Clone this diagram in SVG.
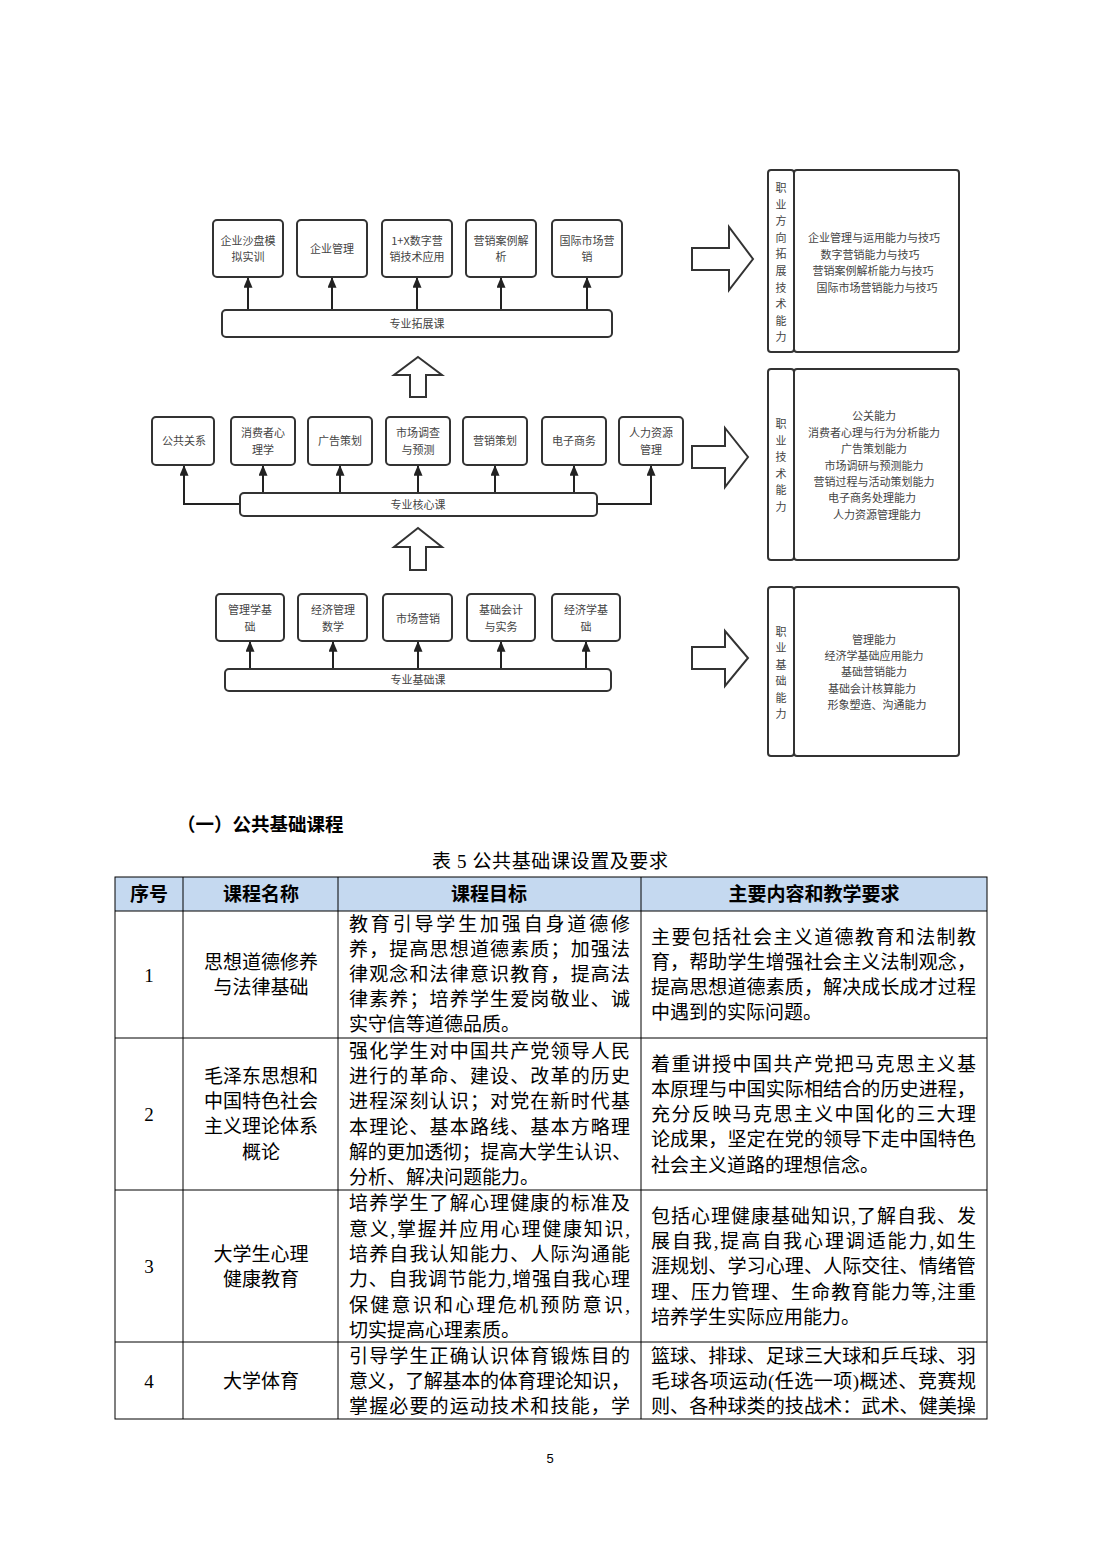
<svg xmlns="http://www.w3.org/2000/svg" width="1102" height="1559" viewBox="0 0 1102 1559">
<style>
.box{fill:#fff;stroke:#333;stroke-width:2}
.t{font-family:"Noto Sans CJK SC","Liberation Sans",sans-serif;font-size:11px;fill:#444;text-anchor:middle}
.conn{stroke:#222;stroke-width:2;fill:none;marker-end:url(#ah)}
.hol{fill:#fff;stroke:#333;stroke-width:2}
.grid{stroke:#000;stroke-width:1;fill:none}
.th{font-family:"Noto Sans CJK SC","Liberation Sans",sans-serif;font-size:19px;font-weight:bold;fill:#000;text-anchor:middle}
.td{font-family:"Liberation Serif","Noto Sans CJK SC",serif;font-size:19px;fill:#000}
.c{text-anchor:middle}
</style>
<defs>
<marker id="ah" viewBox="0 0 12 10" refX="12" refY="5" markerWidth="12" markerHeight="9" markerUnits="userSpaceOnUse" orient="auto">
<path d="M0,0 L12,5 L0,10 z" fill="#222"/>
</marker>
</defs>
<rect width="1102" height="1559" fill="#fff"/>

<!-- connectors -->
<g id="connectors">
<path class="conn" d="M248 310 V277"/>
<path class="conn" d="M332 310 V277"/>
<path class="conn" d="M417 310 V277"/>
<path class="conn" d="M501 310 V277"/>
<path class="conn" d="M587 310 V277"/>
<path class="conn" d="M240 504 H184 V465"/>
<path class="conn" d="M263 493 V465"/>
<path class="conn" d="M340 493 V465"/>
<path class="conn" d="M418 493 V465"/>
<path class="conn" d="M495 493 V465"/>
<path class="conn" d="M574 493 V465"/>
<path class="conn" d="M597 504 H651 V465"/>
<path class="conn" d="M250 669 V641"/>
<path class="conn" d="M333 669 V641"/>
<path class="conn" d="M418 669 V641"/>
<path class="conn" d="M501 669 V641"/>
<path class="conn" d="M586 669 V641"/>
<polygon class="hol" points="418,357 442,375 426,375 426,397 410,397 410,375 394,375"/>
<polygon class="hol" points="418,528 442,547 426,547 426,570 410,570 410,547 394,547"/>
<polygon class="hol" points="692,248 729,248 729,227 753,259 729,290 729,270 692,270"/>
<polygon class="hol" points="692,446 725,446 725,428 748,457 725,487 725,468 692,468"/>
<polygon class="hol" points="692,647 725,647 725,631 748,658 725,686 725,669 692,669"/>
</g>

<!-- top row -->
<g id="n-shapan"><rect class="box" x="213" y="220" width="70" height="57" rx="4"/><text class="t" x="248" y="245">企业沙盘模</text><text class="t" x="248" y="261">拟实训</text></g>
<g id="n-qygl"><rect class="box" x="297" y="220" width="70" height="57" rx="4"/><text class="t" x="332" y="253">企业管理</text></g>
<g id="n-1x"><rect class="box" x="382" y="220" width="70" height="57" rx="4"/><text class="t" x="417" y="245">1+X数字营</text><text class="t" x="417" y="261">销技术应用</text></g>
<g id="n-alfx"><rect class="box" x="466" y="220" width="70" height="57" rx="4"/><text class="t" x="501" y="245">营销案例解</text><text class="t" x="501" y="261">析</text></g>
<g id="n-gjsc"><rect class="box" x="552" y="220" width="70" height="57" rx="4"/><text class="t" x="587" y="245">国际市场营</text><text class="t" x="587" y="261">销</text></g>
<g id="n-tzk"><rect class="box" x="222" y="310" width="390" height="27" rx="4"/><text class="t" x="417" y="328">专业拓展课</text></g>

<!-- middle row -->
<g id="n-ggxg"><rect class="box" x="152" y="417" width="62" height="48" rx="4"/><text class="t" x="184" y="445">公共关系</text></g>
<g id="n-xfz"><rect class="box" x="231" y="417" width="64" height="48" rx="4"/><text class="t" x="263" y="437">消费者心</text><text class="t" x="263" y="454">理学</text></g>
<g id="n-ggch"><rect class="box" x="308" y="417" width="64" height="48" rx="4"/><text class="t" x="340" y="445">广告策划</text></g>
<g id="n-scdc"><rect class="box" x="386" y="417" width="64" height="48" rx="4"/><text class="t" x="418" y="437">市场调查</text><text class="t" x="418" y="454">与预测</text></g>
<g id="n-yxch"><rect class="box" x="463" y="417" width="64" height="48" rx="4"/><text class="t" x="495" y="445">营销策划</text></g>
<g id="n-dzsw"><rect class="box" x="542" y="417" width="64" height="48" rx="4"/><text class="t" x="574" y="445">电子商务</text></g>
<g id="n-rlzy"><rect class="box" x="619" y="417" width="64" height="48" rx="4"/><text class="t" x="651" y="437">人力资源</text><text class="t" x="651" y="454">管理</text></g>
<g id="n-hxk"><rect class="box" x="240" y="493" width="357" height="23" rx="4"/><text class="t" x="418" y="509">专业核心课</text></g>

<!-- bottom row -->
<g id="n-glxjc"><rect class="box" x="216" y="594" width="68" height="47" rx="4"/><text class="t" x="250" y="614">管理学基</text><text class="t" x="250" y="631">础</text></g>
<g id="n-jjglsx"><rect class="box" x="298" y="594" width="69" height="47" rx="4"/><text class="t" x="333" y="614">经济管理</text><text class="t" x="333" y="631">数学</text></g>
<g id="n-scyx"><rect class="box" x="383" y="594" width="69" height="47" rx="4"/><text class="t" x="418" y="623">市场营销</text></g>
<g id="n-jckj"><rect class="box" x="467" y="594" width="68" height="47" rx="4"/><text class="t" x="501" y="614">基础会计</text><text class="t" x="501" y="631">与实务</text></g>
<g id="n-jjxjc"><rect class="box" x="552" y="594" width="68" height="47" rx="4"/><text class="t" x="586" y="614">经济学基</text><text class="t" x="586" y="631">础</text></g>
<g id="n-jck"><rect class="box" x="225" y="669" width="386" height="22" rx="4"/><text class="t" x="418" y="684">专业基础课</text></g>

<!-- right boxes -->
<g id="r-tz">
<rect class="box" x="768" y="170" width="26" height="182" rx="3"/>
<rect class="box" x="794" y="170" width="165" height="182" rx="3"/>
<text class="t" x="781" y="192"><tspan x="781">职</tspan><tspan x="781" dy="16.6">业</tspan><tspan x="781" dy="16.6">方</tspan><tspan x="781" dy="16.6">向</tspan><tspan x="781" dy="16.6">拓</tspan><tspan x="781" dy="16.6">展</tspan><tspan x="781" dy="16.6">技</tspan><tspan x="781" dy="16.6">术</tspan><tspan x="781" dy="16.6">能</tspan><tspan x="781" dy="16.6">力</tspan></text>
<text class="t" x="874" y="242">企业管理与运用能力与技巧</text>
<text class="t" x="870" y="258.5">数字营销能力与技巧</text>
<text class="t" x="873" y="275">营销案例解析能力与技巧</text>
<text class="t" x="877" y="291.5">国际市场营销能力与技巧</text>
</g>
<g id="r-js">
<rect class="box" x="768" y="369" width="26" height="191" rx="3"/>
<rect class="box" x="794" y="369" width="165" height="191" rx="3"/>
<text class="t" x="781" y="428"><tspan x="781">职</tspan><tspan x="781" dy="16.6">业</tspan><tspan x="781" dy="16.6">技</tspan><tspan x="781" dy="16.6">术</tspan><tspan x="781" dy="16.6">能</tspan><tspan x="781" dy="16.6">力</tspan></text>
<text class="t" x="874" y="420">公关能力</text>
<text class="t" x="874" y="437">消费者心理与行为分析能力</text>
<text class="t" x="874" y="453">广告策划能力</text>
<text class="t" x="874" y="470">市场调研与预测能力</text>
<text class="t" x="874" y="486">营销过程与活动策划能力</text>
<text class="t" x="872" y="502">电子商务处理能力</text>
<text class="t" x="877" y="519">人力资源管理能力</text>
</g>
<g id="r-jc">
<rect class="box" x="768" y="587" width="26" height="169" rx="3"/>
<rect class="box" x="794" y="587" width="165" height="169" rx="3"/>
<text class="t" x="781" y="636"><tspan x="781">职</tspan><tspan x="781" dy="16.4">业</tspan><tspan x="781" dy="16.4">基</tspan><tspan x="781" dy="16.4">础</tspan><tspan x="781" dy="16.4">能</tspan><tspan x="781" dy="16.4">力</tspan></text>
<text class="t" x="874" y="644">管理能力</text>
<text class="t" x="874" y="660">经济学基础应用能力</text>
<text class="t" x="874" y="676">基础营销能力</text>
<text class="t" x="872" y="693">基础会计核算能力</text>
<text class="t" x="877" y="709">形象塑造、沟通能力</text>
</g>

<!-- heading and caption -->
<text x="177" y="831" style="font-family:'Noto Sans CJK SC','Liberation Sans',sans-serif;font-size:18.5px;font-weight:bold;fill:#000">（一）公共基础课程</text>
<text x="432" y="868" textLength="236" lengthAdjust="spacing" style="font-family:'Liberation Serif','Noto Sans CJK SC',serif;font-size:19px;fill:#000">表 5 公共基础课设置及要求</text>

<!-- table -->
<g id="table">
<rect x="115" y="877" width="872" height="34" fill="#c5d9f0"/>
<g class="grid">
<rect x="115" y="877" width="872" height="542"/>
<path d="M115 911 H987 M115 1038 H987 M115 1190 H987 M115 1342 H987"/>
<path d="M183 877 V1419 M338 877 V1419 M641 877 V1419"/>
</g>
<text class="th" x="149" y="901">序号</text>
<text class="th" x="261" y="901">课程名称</text>
<text class="th" x="489" y="901">课程目标</text>
<text class="th" x="814" y="901">主要内容和教学要求</text>

<g class="td">
<text class="c" x="149" y="982">1</text>
<text class="c" x="261" y="969">思想道德修养</text>
<text class="c" x="261" y="994">与法律基础</text>
<text x="349" y="931" textLength="281" lengthAdjust="spacing">教育引导学生加强自身道德修</text>
<text x="349" y="956" textLength="281" lengthAdjust="spacing">养，提高思想道德素质；加强法</text>
<text x="349" y="981" textLength="281" lengthAdjust="spacing">律观念和法律意识教育，提高法</text>
<text x="349" y="1006" textLength="281" lengthAdjust="spacing">律素养；培养学生爱岗敬业、诚</text>
<text x="349" y="1031">实守信等道德品质。</text>
<text x="651" y="944" textLength="325" lengthAdjust="spacing">主要包括社会主义道德教育和法制教</text>
<text x="651" y="969" textLength="325" lengthAdjust="spacing">育，帮助学生增强社会主义法制观念，</text>
<text x="651" y="994" textLength="325" lengthAdjust="spacing">提高思想道德素质，解决成长成才过程</text>
<text x="651" y="1019">中遇到的实际问题。</text>

<text class="c" x="149" y="1121">2</text>
<text class="c" x="261" y="1083">毛泽东思想和</text>
<text class="c" x="261" y="1108">中国特色社会</text>
<text class="c" x="261" y="1133">主义理论体系</text>
<text class="c" x="261" y="1159">概论</text>
<text x="349" y="1058" textLength="281" lengthAdjust="spacing">强化学生对中国共产党领导人民</text>
<text x="349" y="1083" textLength="281" lengthAdjust="spacing">进行的革命、建设、改革的历史</text>
<text x="349" y="1108" textLength="281" lengthAdjust="spacing">进程深刻认识；对党在新时代基</text>
<text x="349" y="1134" textLength="281" lengthAdjust="spacing">本理论、基本路线、基本方略理</text>
<text x="349" y="1159" textLength="282" lengthAdjust="spacingAndGlyphs">解的更加透彻；提高大学生认识、</text>
<text x="349" y="1184">分析、解决问题能力。</text>
<text x="651" y="1071" textLength="325" lengthAdjust="spacing">着重讲授中国共产党把马克思主义基</text>
<text x="651" y="1096" textLength="325" lengthAdjust="spacingAndGlyphs">本原理与中国实际相结合的历史进程，</text>
<text x="651" y="1121" textLength="325" lengthAdjust="spacing">充分反映马克思主义中国化的三大理</text>
<text x="651" y="1146" textLength="325" lengthAdjust="spacingAndGlyphs">论成果，坚定在党的领导下走中国特色</text>
<text x="651" y="1172">社会主义道路的理想信念。</text>

<text class="c" x="149" y="1273">3</text>
<text class="c" x="261" y="1261">大学生心理</text>
<text class="c" x="261" y="1286">健康教育</text>
<text x="349" y="1210" textLength="281" lengthAdjust="spacing">培养学生了解心理健康的标准及</text>
<text x="349" y="1236" textLength="281" lengthAdjust="spacing">意义,掌握并应用心理健康知识,</text>
<text x="349" y="1261" textLength="281" lengthAdjust="spacing">培养自我认知能力、人际沟通能</text>
<text x="349" y="1286" textLength="281" lengthAdjust="spacing">力、自我调节能力,增强自我心理</text>
<text x="349" y="1312" textLength="281" lengthAdjust="spacing">保健意识和心理危机预防意识,</text>
<text x="349" y="1337">切实提高心理素质。</text>
<text x="651" y="1223" textLength="325" lengthAdjust="spacing">包括心理健康基础知识,了解自我、发</text>
<text x="651" y="1248" textLength="325" lengthAdjust="spacing">展自我,提高自我心理调适能力,如生</text>
<text x="651" y="1273" textLength="325" lengthAdjust="spacingAndGlyphs">涯规划、学习心理、人际交往、情绪管</text>
<text x="651" y="1299" textLength="325" lengthAdjust="spacing">理、压力管理、生命教育能力等,注重</text>
<text x="651" y="1324">培养学生实际应用能力。</text>

<text class="c" x="149" y="1388">4</text>
<text class="c" x="261" y="1388">大学体育</text>
<text x="349" y="1363" textLength="281" lengthAdjust="spacing">引导学生正确认识体育锻炼目的</text>
<text x="349" y="1388" textLength="281" lengthAdjust="spacing">意义，了解基本的体育理论知识，</text>
<text x="349" y="1413" textLength="281" lengthAdjust="spacing">掌握必要的运动技术和技能，学</text>
<text x="651" y="1363" textLength="325" lengthAdjust="spacingAndGlyphs">篮球、排球、足球三大球和乒乓球、羽</text>
<text x="651" y="1388" textLength="325" lengthAdjust="spacing">毛球各项运动(任选一项)概述、竞赛规</text>
<text x="651" y="1413" textLength="325" lengthAdjust="spacingAndGlyphs">则、各种球类的技战术：武术、健美操</text>
</g>
</g>

<text x="550" y="1463" style="font-family:'Liberation Sans',sans-serif;font-size:13px;fill:#000;text-anchor:middle">5</text>
</svg>
